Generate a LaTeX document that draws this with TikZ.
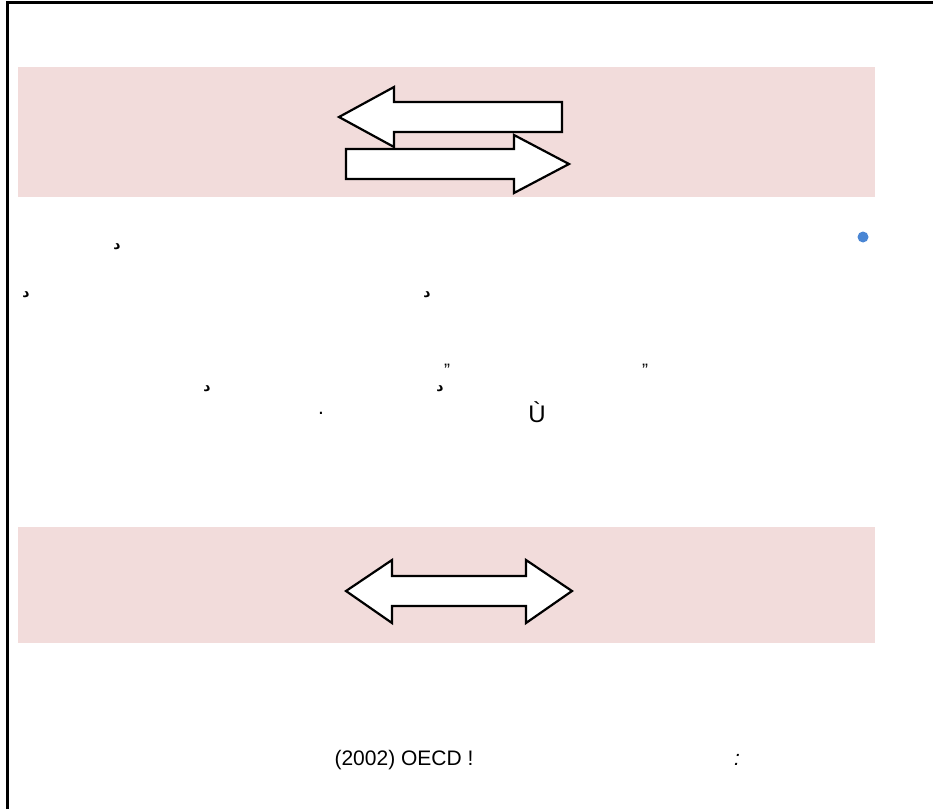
\documentclass[tikz,border=0pt]{standalone}
\usepackage{fontspec}
\setmainfont{Liberation Sans}
\newfontfamily\arabicfont[Script=Arabic]{DejaVu Sans}
\definecolor{band}{HTML}{F2DCDB}
\definecolor{bullet}{HTML}{4A86D4}
\begin{document}
\begin{tikzpicture}[x=1pt,y=-1pt,
    t/.style={font=\fontsize{21}{25}\selectfont,inner sep=0pt},
    m/.style={font=\arabicfont\bfseries\fontsize{14}{16}\selectfont,inner sep=0pt},
    q/.style={font=\fontsize{18}{20}\selectfont,inner sep=0pt},
    ar/.style={draw,fill=white,line width=2.2pt,line join=miter}]
\useasboundingbox (0,0) rectangle (933,809);
\draw[line width=3pt] (7,809) -- (7,2.5) -- (933,2.5);
\fill[band] (18,67) rectangle (875,197);
\fill[band] (18,527) rectangle (875,643);
% arrows
\draw[ar] (339,117) -- (394,87) -- (394,102) -- (562,102) -- (562,132)
    -- (394,132) -- (394,147) -- cycle;
\draw[ar] (346,149) -- (514,149) -- (514,135) -- (569,164) -- (514,193)
    -- (514,179) -- (346,179) -- cycle;
\draw[ar] (346,591) -- (392,560) -- (392,576) -- (526,576) -- (526,560)
    -- (572,591) -- (526,623) -- (526,606) -- (392,606) -- (392,623) -- cycle;
\fill[bullet] (863,237) circle (5.5);
% text
\node[m] (m1) at (117,247) {د};
\node[m] (m2) at (26,295) {د};
\node[m] (m3) at (427,295) {د};
\node[q] (q1) at (447,370) {"};
\node[q] (q2) at (645,370) {"};
\node[m] (m4) at (207,389) {د};
\node[m] (m5) at (440,389) {د};
\node[t] (dot) at (321,413) {.};
\node[t,font=\fontsize{24}{28}\selectfont] (u) at (537,412) {Ù};
\node[t] (src) at (404,760) {(2002) OECD !};
\node[t] (col) at (737,760) {\itshape :};
\end{tikzpicture}
\end{document}
